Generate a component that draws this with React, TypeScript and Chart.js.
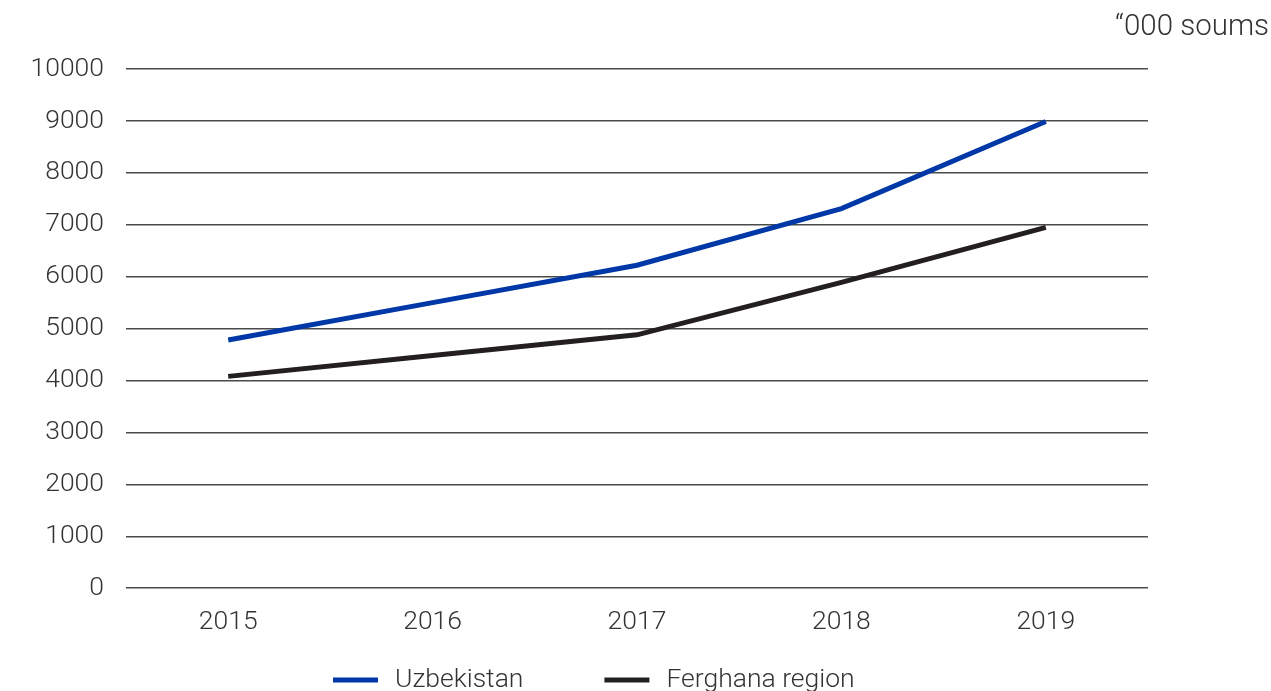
import React, { useEffect, useRef } from "react";
import { Chart, registerables } from "chart.js";

Chart.register(...registerables);

const years = ["2015", "2016", "2017", "2018", "2019"];
const uzbekistan = [4780, 5500, 6220, 7310, 8990];
const ferghana = [4080, 4480, 4880, 5890, 6950];
const seriesNames = ["Uzbekistan", "Ferghana region"];
const seriesColors = ["#0038a8", "#231f20"];
const unitLabel = "\u201C000 soums";

const FONT = "Roboto, 'Noto Sans', sans-serif";
const TEXT = "#333333";

const extras = {
  id: "extras",
  afterDraw(chart: any) {
    const { ctx } = chart;
    ctx.save();
    ctx.fillStyle = TEXT;
    ctx.font = `300 29.5px ${FONT}`;
    ctx.textAlign = "right";
    ctx.textBaseline = "middle";
    ctx.fillText(unitLabel, chart.width - 2, 28);
    const y = chart.height - 11;
    let x = 333;
    const gap = 81;
    chart.data.datasets.forEach((ds: any) => {
      ctx.fillStyle = ds.borderColor;
      ctx.fillRect(x, y - 2.5, 45, 5);
      ctx.fillStyle = TEXT;
      ctx.textAlign = "left";
      ctx.font = `300 26.5px ${FONT}`;
      ctx.fillText(ds.label, x + 62, y);
      x += 62 + ctx.measureText(ds.label).width + gap;
    });
    ctx.restore();
  },
};

export default function App() {
  const ref = useRef<HTMLCanvasElement>(null);
  useEffect(() => {
    if (!ref.current) return;
    const chart = new Chart(ref.current, {
      type: "line",
      data: {
        labels: years,
        datasets: [
          {
            label: seriesNames[0],
            data: uzbekistan,
            borderColor: seriesColors[0],
            backgroundColor: seriesColors[0],
            borderWidth: 5,
            pointRadius: 0,
            tension: 0,
          },
          {
            label: seriesNames[1],
            data: ferghana,
            borderColor: seriesColors[1],
            backgroundColor: seriesColors[1],
            borderWidth: 5,
            pointRadius: 0,
            tension: 0,
          },
        ],
      },
      options: {
        animation: false,
        responsive: false,
        layout: { padding: { top: 69, right: 123, bottom: 35, left: 10 } },
        plugins: { legend: { display: false }, tooltip: { enabled: false } },
        scales: {
          x: {
            offset: true,
            grid: { display: false, drawTicks: false },
            border: { display: false },
            ticks: { color: TEXT, font: { family: FONT, size: 26.5, weight: "300" as any }, padding: 18 },
          },
          y: {
            min: 0,
            max: 10000,
            afterFit: (s: any) => { s.width = 126 - 10; },
            ticks: {
              stepSize: 1000,
              color: TEXT,
              font: { family: FONT, size: 26.5, weight: "300" as any },
              padding: 22,
              callback: (v: any) => String(v),
            },
            grid: { color: "#4a4a4a", lineWidth: 1.5, drawTicks: false },
            border: { display: false },
          },
        },
      },
      plugins: [extras],
    });
    return () => chart.destroy();
  }, []);
  return (
    <div style={{ position: "fixed", left: 0, top: 0, width: 1271, height: 691, background: "#fff" }}>
      <canvas ref={ref} width={1271} height={691} style={{ width: 1271, height: 691 }} />
    </div>
  );
}
